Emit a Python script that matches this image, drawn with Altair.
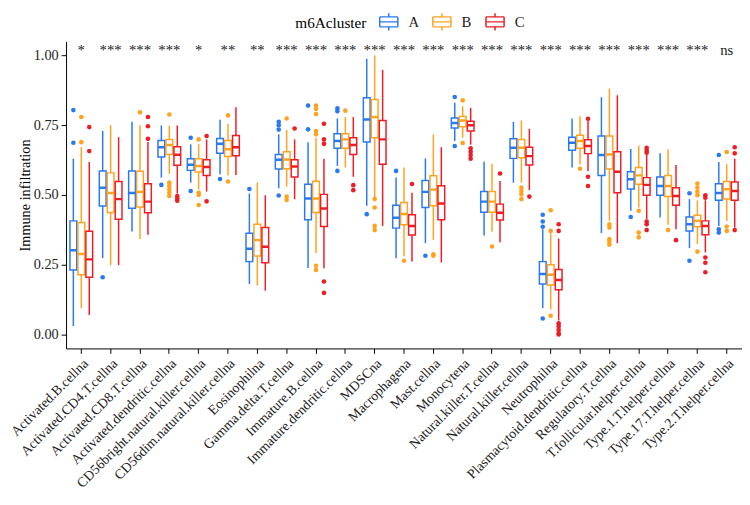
import altair as alt
import pandas as pd

cells = ["Activated.B.cellna", "Activated.CD4.T.cellna", "Activated.CD8.T.cellna",
         "Activated.dendritic.cellna", "CD56bright.natural.killer.cellna",
         "CD56dim.natural.killer.cellna", "Eosinophilna", "Gamma.delta.T.cellna",
         "Immature.B.cellna", "Immature.dendritic.cellna", "MDSCna", "Macrophagena",
         "Mast.cellna", "Monocytena", "Natural.killer.T.cellna", "Natural.killer.cellna",
         "Neutrophilna", "Plasmacytoid.dendritic.cellna", "Regulatory.T.cellna",
         "T.follicular.helper.cellna", "Type.1.T.helper.cellna", "Type.17.T.helper.cellna",
         "Type.2.T.helper.cellna"]

stars = ["*", "***", "***", "***", "*", "**", "**", "***", "***", "***", "***", "***",
         "***", "***", "***", "***", "***", "***", "***", "***", "***", "***", "ns"]

groups = ["A", "B", "C"]

# [lower whisker, Q1, median, Q3, upper whisker] per cell type
stats_A = [
    [.030, .231, .302, .407, .630], [.274, .460, .526, .586, .729], [.369, .452, .507, .586, .762],
    [.562, .636, .671, .695, .749], [.544, .588, .608, .630, .681], [.574, .649, .683, .702, .769],
    [.181, .261, .307, .363, .505], [.524, .593, .626, .645, .717], [.238, .411, .487, .538, .689],
    [.604, .667, .693, .719, .774], [.461, .690, .770, .848, .988], [.273, .381, .418, .463, .562],
    [.327, .455, .511, .552, .631], [.693, .740, .758, .776, .830], [.355, .438, .476, .512, .619],
    [.544, .631, .669, .701, .762], [.095, .181, .217, .261, .377], [.598, .660, .687, .707, .774],
    [.363, .570, .643, .711, .850], [.443, .521, .556, .583, .665], [.419, .499, .532, .564, .649],
    [.310, .371, .395, .421, .485], [.389, .481, .507, .540, .618]]
stats_B = [
    [.094, .214, .288, .401, .671], [.248, .437, .507, .579, .750], [.342, .457, .511, .585, .750],
    [.576, .645, .679, .699, .748], [.520, .582, .604, .630, .682], [.570, .638, .664, .695, .755],
    [.175, .281, .338, .395, .545], [.530, .594, .627, .655, .733], [.292, .437, .487, .549, .705],
    [.598, .667, .699, .719, .779], [.490, .705, .779, .842, 1.000], [.280, .393, .432, .473, .598],
    [.339, .461, .519, .569, .717], [.705, .744, .767, .781, .818], [.368, .438, .476, .512, .612],
    [.544, .633, .669, .699, .767], [.090, .177, .214, .250, .363], [.610, .667, .693, .714, .782],
    [.407, .593, .645, .711, .881], [.455, .538, .570, .598, .677], [.393, .494, .532, .570, .664],
    [.324, .386, .407, .427, .480], [.407, .485, .520, .548, .610]]
stats_C = [
    [.070, .205, .269, .370, .618], [.248, .413, .485, .548, .707], [.357, .436, .476, .540, .690],
    [.505, .606, .644, .673, .749], [.512, .570, .600, .626, .699], [.571, .640, .671, .713, .814],
    [.157, .257, .314, .383, .499], [.485, .564, .602, .626, .699], [.237, .387, .451, .502, .630],
    [.565, .645, .679, .705, .779], [.389, .610, .699, .767, .948], [.261, .356, .389, .429, .508],
    [.258, .411, .469, .533, .671], [.680, .729, .750, .764, .812], [.330, .410, .436, .467, .550],
    [.517, .607, .639, .671, .737], [.050, .160, .195, .233, .344], [.586, .648, .675, .698, .765],
    [.327, .508, .583, .655, .857], [.413, .499, .536, .562, .645], [.377, .463, .496, .526, .607],
    [.294, .357, .389, .407, .481], [.383, .481, .514, .546, .630]]

outliers_A = [
    [.804, .687], [.205], [], [.536], [.705, .514], [.557], [.521], [.762, .750, .734, .498],
    [.820, .735], [.810, .800, .586], [.431], [.586], [.282], [.851, .675], [], [],
    [.429, .405, .386, .057], [], [], [.421], [], [.506, .264], [.643, .377, .365]]
outliers_B = [
    [.779, .689], [], [.796], [.788, .544, .532, .520, .508, .496], [.699, .508, .500, .464],
    [.785, .548], [], [.774, .494, .482], [.820, .808, .790, .729, .717, .246, .231], [.802],
    [.485, .455, .389, .374], [.264], [.287, .282], [.839, .686], [.315],
    [.526, .514, .502, .485], [.445, .371, .067], [.594], [.395, .383, .342, .333, .322],
    [.443, .365, .348], [.374], [.541, .526, .511, .499, .297], [.654, .387, .371]]
outliers_C = [
    [.743, .657], [], [.779, .746, .701], [.496, .487, .479], [.711, .477], [], [], [.738],
    [.755, .699, .683, .190, .149], [.535, .517], [], [.539], [], [.667, .655, .643, .630],
    [.577], [.494], [.395, .371, .040, .029, .017, .005, .000], [.773, .565, .532], [],
    [.669, .659, .651, .405, .395, .374], [.338], [.499, .490, .276, .257, .223],
    [.671, .649, .374]]

colors = ["#2A78F2", "#FFA31F", "#EE1C25"]
FONT = "Liberation Serif"

box_rows = []
out_rows = []
for g, st, ou in zip(groups, [stats_A, stats_B, stats_C], [outliers_A, outliers_B, outliers_C]):
    for c, s, o in zip(cells, st, ou):
        box_rows.append({"cell": c, "group": g, "lo": s[0], "q1": s[1], "med": s[2],
                         "q3": s[3], "hi": s[4]})
        for v in o:
            out_rows.append({"cell": c, "group": g, "grp": g, "value": v})
df_box = pd.DataFrame(box_rows)
df_out = pd.DataFrame(out_rows)
df_star = pd.DataFrame({"cell": cells, "star": stars})

X = alt.X("cell:N", sort=cells,
          scale=alt.Scale(paddingInner=0.2, paddingOuter=0.12),
          axis=alt.Axis(title=None, labelAngle=-45, labelAlign="right", labelBaseline="top",
                        labelFontSize=14, labelFont=FONT, labelColor="#222222",
                        labelPadding=3, tickSize=5, labelOverlap=False, labelLimit=0,
                        bandPosition=0.5))
XO = alt.XOffset("group:N", sort=groups,
                 scale=alt.Scale(domain=groups, paddingInner=0.15, paddingOuter=0.05))
YS = alt.Scale(domain=[-0.05, 1.05], nice=False, zero=False)

# boxplot glyph drawn as open line segments only (so nothing gets filled)
box_path = ("M-1,-0.55H1 M1,-0.55V0.55 M1,0.55H-1 M-1,0.55V-0.55 "
            "M-1,0H1 M0,-0.55V-0.95 M0,0.55V0.95")
cscale = alt.Scale(domain=groups, range=colors)
stroke = alt.Stroke("group:N", title="m6Acluster", scale=cscale,
                    legend=alt.Legend(orient="none", legendX=233, legendY=-30,
                                      direction="horizontal", titleOrient="left",
                                      symbolType=box_path, symbolSize=340,
                                      symbolStrokeWidth=1.5, symbolFillColor="transparent",
                                      titleFontSize=15.5, titleFont=FONT,
                                      titleFontWeight="normal",
                                      titleColor="black", titlePadding=12,
                                      labelFontSize=15, labelFont=FONT, labelColor="#222222",
                                      labelOffset=10, columnPadding=10))
fill = alt.Fill("grp:N", scale=alt.Scale(domain=groups, range=colors), legend=None)

boxes = alt.Chart(df_box).mark_bar(filled=False, strokeWidth=1.5).encode(
    x=X, xOffset=XO,
    y=alt.Y("q1:Q", scale=YS, title="Immune infiltration",
            axis=alt.Axis(values=[0, 0.25, 0.5, 0.75, 1.0], format=".2f", grid=False,
                          labelFontSize=14.5, labelFont=FONT, labelColor="#222222",
                          titleFontSize=14.5, titleFont=FONT, titleFontWeight="normal",
                          titleColor="black", titlePadding=1, tickSize=5, labelPadding=3)),
    y2="q3:Q", stroke=stroke)

wlo = alt.Chart(df_box).mark_rule(strokeWidth=1.5).encode(
    x=X, xOffset=XO, y=alt.Y("lo:Q", scale=YS), y2="q1:Q", stroke=stroke)
whi = alt.Chart(df_box).mark_rule(strokeWidth=1.5).encode(
    x=X, xOffset=XO, y=alt.Y("q3:Q", scale=YS), y2="hi:Q", stroke=stroke)
meds = alt.Chart(df_box).mark_bar(filled=False, strokeWidth=2.5).encode(
    x=X, xOffset=XO, y=alt.Y("med:Q", scale=YS), y2="med:Q", stroke=stroke)
outs = alt.Chart(df_out).mark_circle(size=22, opacity=1).encode(
    x=X, xOffset=XO, y=alt.Y("value:Q", scale=YS), fill=fill)
txt = alt.Chart(df_star).mark_text(fontSize=15, font=FONT, baseline="alphabetic",
                                   color="#222222").encode(
    x=X, y=alt.Y(datum=1.0, scale=YS), text="star:N")

chart = alt.layer(boxes, wlo, whi, meds, outs, txt).properties(
    width=687, height=312,
    padding={"left": 0, "top": 0, "right": 0, "bottom": 0}
).configure_view(stroke=None).configure_axis(
    domainColor="black", tickColor="black", domainWidth=1, tickWidth=1
)

chart.save("out.html", embed_options={"renderer": "svg", "actions": False})
